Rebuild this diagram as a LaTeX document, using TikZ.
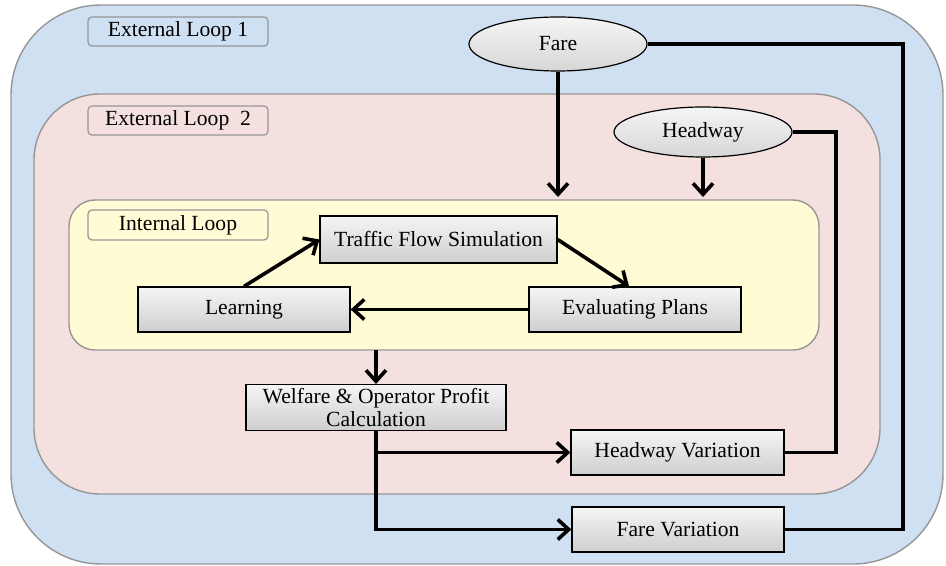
\documentclass[tikz,border=0pt]{standalone}
\usepackage{fontspec}
\setmainfont{Liberation Serif}
\usepackage{tikz}
\usetikzlibrary{shapes.geometric, arrows.meta, calc}
\usepackage{xcolor}

\definecolor{azulfundo}{RGB}{207,224,242}
\definecolor{rosafundo}{RGB}{243,224,223}
\definecolor{amarelofundo}{RGB}{255,251,213}
\definecolor{bordacinza}{RGB}{150,150,150}

\begin{document}
\begin{tikzpicture}[x=0.5pt, y=-0.5pt,
  font=\fontsize{10.8}{11.5}\selectfont,
  caixa/.style={draw=black, line width=0.6pt, top color=gray!8, bottom color=gray!38,
    inner sep=0pt, minimum height=22.5pt, align=center},
  elipse/.style={ellipse, draw=black, line width=0.6pt, top color=gray!8, bottom color=gray!32,
    inner sep=0pt, minimum width=89pt},
  rotulo/.style={draw=bordacinza, line width=0.6pt, rounded corners=2pt, inner sep=0pt,
    minimum width=90pt, minimum height=14.5pt},
  flecha/.style={line width=1.8pt, -{Straight Barb[length=5.5pt, width=10pt, line width=1.8pt]}},
  linha/.style={line width=1.8pt}]
\useasboundingbox (0,0) rectangle (946,566);

% Fundos dos laços
\draw[bordacinza, fill=azulfundo, line width=0.7pt, rounded corners=45pt] (11,5) rectangle (943,564);  % laço externo 1
\draw[bordacinza, fill=rosafundo, line width=0.7pt, rounded corners=33pt] (34,94) rectangle (880,494);  % laço externo 2
\draw[bordacinza, fill=amarelofundo, line width=0.7pt, rounded corners=13pt] (69,200) rectangle (819,350);  % laço interno

% Rótulos
\node[rotulo, fill=azulfundo] (rotext1) at (178,31.5) {External Loop 1};
\node[rotulo, fill=rosafundo] (rotext2) at (178,120.5) {External Loop\ \ 2};
\node[rotulo, fill=amarelofundo, minimum height=15pt] (rotint) at (178,225) {Internal Loop};

% Parâmetros
\node[elipse, minimum height=27pt] (fare) at (558,44) {Fare};
\node[elipse, minimum height=25pt] (headway) at (703,132) {Headway};

% Caixas do laço interno
\node[caixa, minimum width=118.5pt, minimum height=23.5pt] (traffic) at (438.5,239.5) {Traffic Flow Simulation};
\node[caixa, minimum width=106pt] (learning) at (244,309.5) {Learning};
\node[caixa, minimum width=106pt] (evaluating) at (635,309.5) {Evaluating Plans};

% Cálculo e variações
\node[caixa, minimum width=130pt, minimum height=23pt] (welfare) at (376,407.5) {Welfare \& Operator Profit\\Calculation};
\node[caixa, minimum width=106.5pt] (hwvar) at (677.5,452.5) {Headway Variation};
\node[caixa, minimum width=106pt] (farevar) at (678,529.5) {Fare Variation};

% Pontos auxiliares
\coordinate (topoint) at (558,197);  % topo do laço interno
\coordinate (baseint) at (376,350);  % base do laço interno
\coordinate (retfare) at (903,300);
\coordinate (rethw) at (836,300);

% Setas
\draw[flecha] (fare.south) -- (fare.south |- topoint);
\draw[flecha] (headway.south) -- (headway.south |- topoint);
\draw[flecha] (learning.north) -- (traffic.west);
\draw[flecha] (traffic.east) -- ([xshift=-3pt]evaluating.north);
\draw[flecha] (evaluating.west) -- (learning.east);
\draw[flecha] (welfare.north |- baseint) -- (welfare.north);
\draw[flecha] (welfare.south) |- (farevar.west);
\draw[flecha] (welfare.south |- hwvar.west) -- (hwvar.west);

% Retornos
\draw[linha] (fare.east) -| (retfare) |- (farevar.east);
\draw[linha] (headway.east) -| (rethw) |- (hwvar.east);
\end{tikzpicture}
\end{document}
